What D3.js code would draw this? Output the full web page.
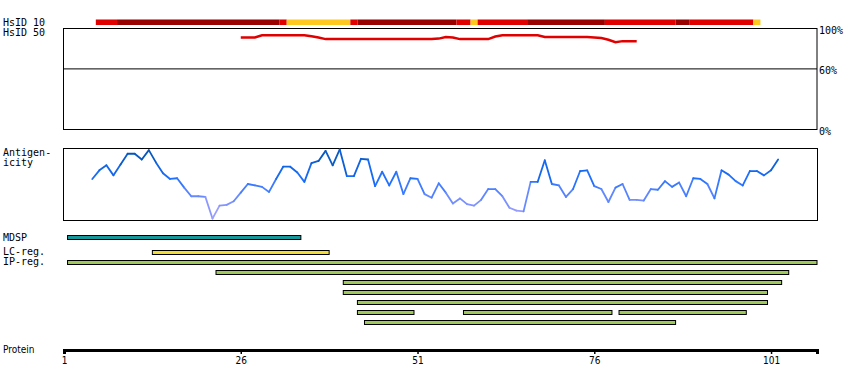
<!DOCTYPE html>
<html>
<head>
<meta charset="utf-8">
<script src="https://cdn.jsdelivr.net/npm/d3@7"></script>
<style>
  body { margin: 0; background: #fff; }
  text { font-family: 'DejaVu Sans Mono', 'Liberation Mono', monospace; font-size: 10px; }
  .narrow { font-family: 'DejaVu Sans Condensed', 'Liberation Sans Narrow', 'Liberation Sans', sans-serif; font-size: 10px; }
</style>
</head>
<body>
<svg id="chart" width="850" height="390"></svg>
<script>
// residue scale
const protStart = 1
const protEnd = 107.5
const tickResidues = [1, 26, 51, 76, 101]

/// HsID 10 segments
const hs10Start = [6, 9, 32, 33, 42, 43, 57, 59, 60, 67, 78, 88, 90, 99]
const hs10End = [8, 31, 32, 41, 42, 56, 58, 59, 66, 77, 87, 89, 98, 99]
const hs10Level = ['mid', 'high', 'mid', 'low', 'mid', 'high', 'mid', 'low', 'mid', 'high', 'mid', 'high', 'mid', 'low']

/// HsID 50 (percent), residues 26..82
const hs50First = 26
const hs50Values = [
  91.2, 91.2, 91.2, 93.3, 93.3, 93.3, 93.3, 93.3, 93.3, 93.3,
  92.3, 91.0, 89.5, 89.5, 89.5, 89.5, 89.5, 89.5, 89.5, 89.5,
  89.5, 89.5, 89.5, 89.5, 89.5, 89.5, 89.5, 89.5, 90.0, 91.5,
  91.0, 89.5, 89.5, 89.5, 89.5, 89.5, 92.0, 93.3, 93.3, 93.3,
  93.3, 93.3, 93.3, 91.5, 91.5, 91.5, 91.5, 91.5, 91.5, 91.5,
  91.0, 90.5, 88.8, 86.5, 87.5, 87.5, 87.5
]
const hs50Ticks = [100, 60, 0]

/// Antigenicity, residues 5..102
const antFirst = 5
const antValues = [
  0.57, 0.69, 0.76, 0.62, 0.77, 0.92, 0.92, 0.84, 0.97, 0.80,
  0.65, 0.57, 0.58, 0.45, 0.33, 0.33, 0.32, 0.02, 0.20, 0.21,
  0.26, 0.38, 0.50, 0.48, 0.46, 0.39, 0.57, 0.74, 0.74, 0.66,
  0.53, 0.79, 0.82, 0.96, 0.76, 0.98, 0.61, 0.61, 0.85, 0.84,
  0.47, 0.67, 0.48, 0.67, 0.36, 0.58, 0.57, 0.36, 0.31, 0.51,
  0.38, 0.23, 0.30, 0.22, 0.20, 0.28, 0.43, 0.43, 0.33, 0.17,
  0.13, 0.12, 0.53, 0.53, 0.83, 0.50, 0.48, 0.32, 0.43, 0.68,
  0.69, 0.47, 0.43, 0.25, 0.45, 0.50, 0.28, 0.28, 0.27, 0.43,
  0.42, 0.54, 0.46, 0.52, 0.33, 0.58, 0.57, 0.50, 0.30, 0.69,
  0.63, 0.54, 0.48, 0.68, 0.68, 0.62, 0.69, 0.84
]

/// feature tracks
const featName = ['MDSP', 'LC-reg.', 'IP-reg.', '', '', '', '', '', '', '', '']
const featRow = [0, 1, 2, 3, 4, 5, 6, 7, 7, 7, 8]
const featStart = [2, 14, 2, 23, 41, 41, 43, 43, 58, 80, 44]
const featEnd = [34, 38, 107, 103, 102, 100, 100, 50, 78, 97, 87]
const featType = ['mdsp', 'lc', 'ip', 'ip', 'ip', 'ip', 'ip', 'ip', 'ip', 'ip', 'ip']

const svg = d3.select('#chart')

const xScale = d3.scaleLinear().domain([protStart, protEnd]).range([64, 817])
const y50 = d3.scaleLinear().domain([0, 100]).range([129.5, 28.5])
const yAnt = d3.scaleLinear().domain([0, 1]).range([220, 148])

const hs10Color = { high: '#990000', mid: '#e00000', low: '#ffc820' }
const featColor = { mdsp: '#17979a', lc: '#f2dc36', ip: '#9fc95a' }
const antColor = d3.scaleLinear()
  .domain([0, 0.3, 0.6, 1])
  .range(['#b4a8ff', '#6e8cff', '#1a6eff', '#0050a8'])

// labels on the left
const leftLabels = [
  ['HsID 10', 26], ['HsID 50', 36], ['Antigen-', 156], ['icity', 166]
]
svg.append('g')
  .selectAll('text')
  .data(leftLabels)
  .enter()
  .append('text')
  .attr('x', 3)
  .attr('y', d => d[1])
  .text(d => d[0])

/// HsID 10 bar
svg.append('g')
  .selectAll('rect')
  .data(hs10Start)
  .enter()
  .append('rect')
  .attr('x', (d, i) => xScale(d - 0.5))
  .attr('width', (d, i) => xScale(hs10End[i] + 0.5) - xScale(d - 0.5))
  .attr('y', 19.5)
  .attr('height', 5.5)
  .attr('fill', (d, i) => hs10Color[hs10Level[i]])

/// HsID 50 panel
svg.append('rect')
  .attr('x', 63.5)
  .attr('y', y50(100))
  .attr('width', 817 - 63.5)
  .attr('height', y50(0) - y50(100))
  .attr('fill', 'none')
  .attr('stroke', '#000')

svg.append('line')
  .attr('x1', 63.5).attr('x2', 817)
  .attr('y1', y50(60)).attr('y2', y50(60))
  .attr('stroke', '#000')

svg.append('g')
  .selectAll('text')
  .data(hs50Ticks)
  .enter()
  .append('text')
  .attr('x', 819)
  .attr('y', d => y50(d) + 5.5)
  .text(d => d + '%')

svg.append('path')
  .datum(hs50Values)
  .attr('d', d3.line()
    .x((d, i) => xScale(hs50First + i))
    .y(d => y50(d)))
  .attr('fill', 'none')
  .attr('stroke', '#e00000')
  .attr('stroke-width', 2.5)

/// Antigenicity panel
svg.append('rect')
  .attr('x', 63.5)
  .attr('y', 148.5)
  .attr('width', 817.5 - 63.5)
  .attr('height', 220.5 - 148.5)
  .attr('fill', 'none')
  .attr('stroke', '#000')

const antSegs = d3.pairs(antValues.map((v, i) => [antFirst + i, v]))
svg.append('g')
  .selectAll('line')
  .data(antSegs)
  .enter()
  .append('line')
  .attr('x1', d => xScale(d[0][0]))
  .attr('y1', d => yAnt(d[0][1]))
  .attr('x2', d => xScale(d[1][0]))
  .attr('y2', d => yAnt(d[1][1]))
  .attr('stroke', d => antColor((d[0][1] + d[1][1]) / 2))
  .attr('stroke-width', 1.8)
  .attr('stroke-linecap', 'round')

/// features
const rowY = r => (r === 0 ? 235.5 : r === 1 ? 250.5 : 260.5 + (r - 2) * 10)

svg.append('g')
  .selectAll('rect')
  .data(featStart)
  .enter()
  .append('rect')
  .attr('x', (d, i) => xScale(d - 0.5))
  .attr('width', (d, i) => xScale(featEnd[i] + 0.5) - xScale(d - 0.5))
  .attr('y', (d, i) => rowY(featRow[i]))
  .attr('height', 4)
  .attr('fill', (d, i) => featColor[featType[i]])
  .attr('stroke', '#000')
  .attr('stroke-width', 1)

const featLabelY = [241, 255, 265]
svg.append('g')
  .selectAll('text')
  .data(featName.filter(d => d !== ''))
  .enter()
  .append('text')
  .attr('x', 3)
  .attr('y', (d, i) => featLabelY[i])
  .text(d => d)

/// protein axis
svg.append('text')
  .attr('class', 'narrow')
  .attr('x', 3)
  .attr('y', 353)
  .text('Protein')

const xAxis = svg.append('g')
  .attr('transform', 'translate(0,350)')
  .call(d3.axisBottom(xScale)
    .tickValues(tickResidues)
    .tickSizeInner(4)
    .tickSizeOuter(4)
    .tickPadding(3))

xAxis.select('.domain').attr('stroke-width', 3)
xAxis.selectAll('.tick line').attr('stroke-width', 1.5)
xAxis.selectAll('.tick text')
  .attr('class', 'narrow')
  .attr('fill', '#000')
</script>
</body>
</html>
